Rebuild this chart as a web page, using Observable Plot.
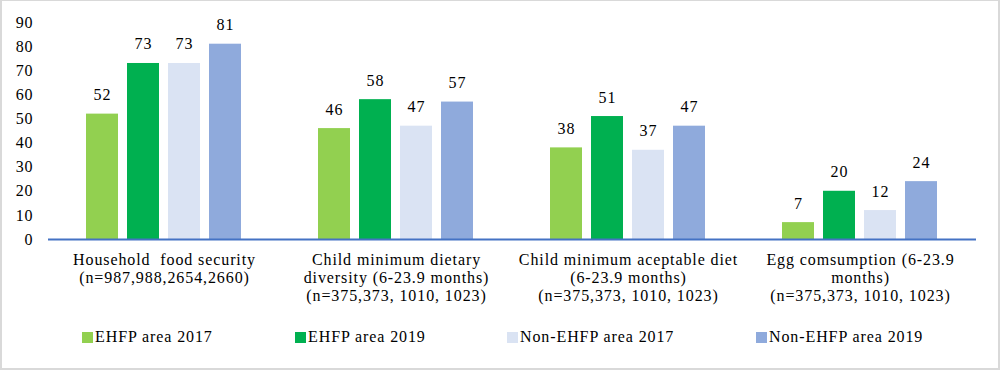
<!DOCTYPE html>
<html>
<head>
<meta charset="utf-8">
<script src="https://cdn.jsdelivr.net/npm/d3@7"></script>
<script src="https://cdn.jsdelivr.net/npm/@observablehq/plot@0.6"></script>
</head>
<body style="margin:0;padding:0;background:#fff;font-family:'Liberation Serif'">
<div id="wrap" style="position:relative;width:1000px;height:370px;overflow:hidden;background:#fff;font-family:'Liberation Serif'">
  <div id="chart" style="position:absolute;left:0;top:0"></div>
  <div id="legend" style="position:absolute;left:0;top:328px;width:1000px;height:24px;font-family:'Liberation Serif'"></div>
  <div id="frame" style="position:absolute;left:0;top:0;width:1000px;height:370px;box-sizing:border-box;border:2px solid #d9d9d9;border-top-width:1px;pointer-events:none"></div>
</div>
<script>
const groups = [
  "Household  food security\n(n=987,988,2654,2660)",
  "Child minimum dietary\ndiversity (6-23.9 months)\n(n=375,373, 1010, 1023)",
  "Child minimum aceptable diet\n(6-23.9 months)\n(n=375,373, 1010, 1023)",
  "Egg comsumption (6-23.9\nmonths)\n(n=375,373, 1010, 1023)"
];
const series = ["EHFP area 2017", "EHFP area 2019", "Non-EHFP area 2017", "Non-EHFP area 2019"];
const colors = ["#92d050", "#00b050", "#dae3f3", "#8faadc"];
const ehfp2017 = [52, 46, 38, 7];
const ehfp2019 = [73, 58, 51, 20];
const non2017 = [73, 47, 37, 12];
const non2019 = [81, 57, 47, 24];
const yTicks = [0, 10, 20, 30, 40, 50, 60, 70, 80, 90];
const legendX = [82, 295, 507, 756];

const valuesBySeries = [ehfp2017, ehfp2019, non2017, non2019];
const data = [];
groups.forEach((g, i) => {
  series.forEach((s, j) => data.push({group: g, series: s, value: valuesBySeries[j][i]}));
});

const axisBlue = "#4472c4";
const font = "Liberation Serif";

const chart = Plot.plot({
  width: 1000,
  height: 312,
  marginLeft: 47,
  marginRight: 23,
  marginTop: 22,
  marginBottom: 73,
  style: {fontFamily: "'Liberation Serif'", fontSize: "16px", color: "#000", background: "transparent", letterSpacing: "0.9px"},
  fx: {domain: groups, padding: 0, label: null},
  x: {domain: series, paddingInner: 0.21, paddingOuter: 0.87, axis: null},
  y: {domain: [0, 90], label: null},
  color: {domain: series, range: colors},
  marks: [
    Plot.barY(data, {fx: "group", x: "series", y: "value", fill: "series"}),
    Plot.text(data, {fx: "group", x: "series", y: "value", text: d => String(d.value),
      dy: -14, lineAnchor: "bottom", fontSize: 16, fontFamily: font, fill: "#000"}),
    Plot.ruleY([0], {stroke: axisBlue, strokeWidth: 2}),
    Plot.axisY({ticks: yTicks, tickSize: 0, tickPadding: 15, line: true, stroke: axisBlue, strokeWidth: 2,
      fill: "#000", fontSize: 16, fontFamily: font, label: null}),
    Plot.axisFx({anchor: "bottom", tickSize: 0, tickPadding: 12, label: null, fontSize: 16, fontFamily: font,
      lineHeight: 1.15, fill: "#000"})
  ]
});
document.getElementById("chart").appendChild(chart);

const legend = document.getElementById("legend");
series.forEach((s, i) => {
  const it = document.createElement("div");
  it.style.cssText = "position:absolute;top:0;display:flex;align-items:center;font-size:16px;letter-spacing:0.9px;color:#000;white-space:nowrap;font-family:'Liberation Serif'";
  it.style.left = legendX[i] + "px";
  const sw = document.createElement("span");
  sw.style.cssText = "width:11px;height:11px;margin-right:2px;display:inline-block";
  sw.style.background = colors[i];
  const tx = document.createElement("span");
  tx.textContent = s;
  it.appendChild(sw); it.appendChild(tx);
  legend.appendChild(it);
});
</script>
</body>
</html>
